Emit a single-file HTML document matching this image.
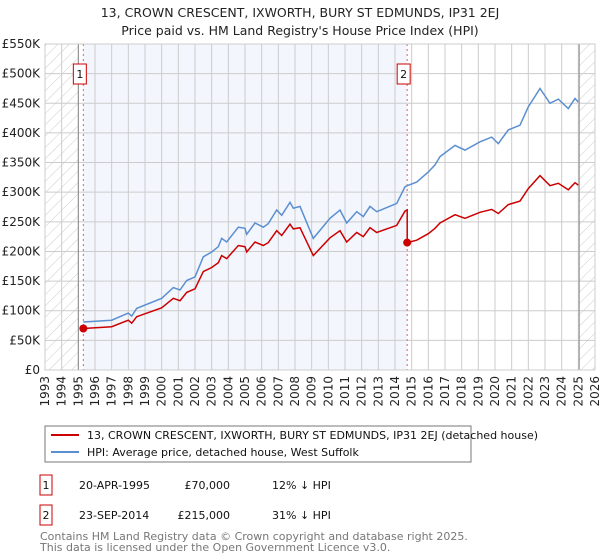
<!DOCTYPE html>
<html><head><meta charset="utf-8"><style>
body{margin:0;background:#fff;font-family:"DejaVu Sans","Liberation Sans",sans-serif;}
svg{display:block}
</style></head><body>
<svg id="chart" width="600" height="560" viewBox="0 0 600 560" xmlns="http://www.w3.org/2000/svg">
<defs>
<pattern id="hatch" width="8" height="8" patternUnits="userSpaceOnUse" patternTransform="rotate(45)">
<line x1="0" y1="0" x2="0" y2="8" stroke="#ccc" stroke-width="1"/>
</pattern>
</defs>
<text x="300" y="17" text-anchor="middle" font-size="12.5" fill="#222">13, CROWN CRESCENT, IXWORTH, BURY ST EDMUNDS, IP31 2EJ</text>
<text x="300" y="35" text-anchor="middle" font-size="12.5" fill="#222">Price paid vs. HM Land Registry's House Price Index (HPI)</text>
<g id="plot"></g>
<g>
<rect x="45" y="426" width="426" height="36" fill="#fff" stroke="#777"/>
<line x1="51" y1="435" x2="79" y2="435" stroke="#cc0000" stroke-width="2"/>
<text x="87" y="439" font-size="11" fill="#111">13, CROWN CRESCENT, IXWORTH, BURY ST EDMUNDS, IP31 2EJ (detached house)</text>
<line x1="51" y1="452" x2="79" y2="452" stroke="#5b8fd0" stroke-width="2"/>
<text x="87" y="456" font-size="11" fill="#111">HPI: Average price, detached house, West Suffolk</text>
</g>
<g font-size="11" fill="#111">
<rect x="40" y="475" width="12" height="20" fill="#fff" stroke="#cc0000"/>
<text x="46" y="489" text-anchor="middle">1</text>
<text x="79" y="489">20-APR-1995</text>
<text x="230" y="489" text-anchor="end">£70,000</text>
<text x="272" y="489">12% ↓ HPI</text>
<rect x="40" y="505" width="12" height="20" fill="#fff" stroke="#cc0000"/>
<text x="46" y="519" text-anchor="middle">2</text>
<text x="79" y="519">23-SEP-2014</text>
<text x="230" y="519" text-anchor="end">£215,000</text>
<text x="272" y="519">31% ↓ HPI</text>
</g>
<text x="40" y="540" font-size="11" fill="#777">Contains HM Land Registry data © Crown copyright and database right 2025.</text>
<text x="40" y="551" font-size="11" fill="#777">This data is licensed under the Open Government Licence v3.0.</text>
</svg>
<script>
const hpiYears=[1995.3,1997,1998,1998.2,1998.5,2000,2000.7,2001.1,2001.5,2002,2002.5,2003,2003.4,2003.6,2003.9,2004.6,2005,2005.1,2005.6,2006.1,2006.4,2006.9,2007.2,2007.7,2007.9,2008.3,2009.1,2010.1,2010.7,2011.1,2011.7,2012.1,2012.5,2012.9,2014.1,2014.6,2014.73,2015.3,2016,2016.4,2016.7,2017.6,2018.2,2019.1,2019.8,2020.2,2020.8,2021.5,2022,2022.7,2023.3,2023.8,2024.4,2024.8,2025.0];
const hpiValues=[81,84,96,91,104,121,139,135,151,157,191,199,208,222,216,241,239,229,248,241,247,270,261,283,273,276,222,256,270,248,267,259,276,267,281,309,311,317,334,346,360,379,371,385,393,382,405,413,444,475,450,457,441,458,452];
const propYears=[1995.3,1997,1998,1998.2,1998.5,2000,2000.7,2001.1,2001.5,2002,2002.5,2003,2003.4,2003.6,2003.9,2004.6,2005,2005.1,2005.6,2006.1,2006.4,2006.9,2007.2,2007.7,2007.9,2008.3,2009.1,2010.1,2010.7,2011.1,2011.7,2012.1,2012.5,2012.9,2014.1,2014.6,2014.73,2014.73,2015.3,2016,2016.4,2016.7,2017.6,2018.2,2019.1,2019.8,2020.2,2020.8,2021.5,2022,2022.7,2023.3,2023.8,2024.4,2024.8,2025.0];
const propValues=[70,73,84,79,90,105,121,117,131,137,166,173,181,193,188,210,208,199,216,210,215,235,227,246,238,240,193,223,235,216,232,225,240,232,244,268,270,215,219,230,239,248,262,256,266,271,264,279,285,306,328,311,315,304,316,312];
const saleYears=[1995.3,2014.73];
const saleValues=[70,215];
const saleLabels=["1","2"];
const yTicks=[0,50,100,150,200,250,300,350,400,450,500,550];
const yTickLabels=["£0","£50K","£100K","£150K","£200K","£250K","£300K","£350K","£400K","£450K","£500K","£550K"];
const xTicks=[1993,1994,1995,1996,1997,1998,1999,2000,2001,2002,2003,2004,2005,2006,2007,2008,2009,2010,2011,2012,2013,2014,2015,2016,2017,2018,2019,2020,2021,2022,2023,2024,2025,2026];

const X0=45,X1=595,Y0=370,Y1=44;
const xs=y=>X0+(y-1993)/(2026-1993)*(X1-X0);
const ys=v=>Y0-v/550*(Y0-Y1);
const NS="http://www.w3.org/2000/svg";
const g=document.getElementById('plot');
function mk(t,a){const e=document.createElementNS(NS,t);for(const k in a)e.setAttribute(k,a[k]);g.appendChild(e);return e;}

let e=mk('rect',{x:xs(saleYears[0]),y:Y1,width:xs(saleYears[1])-xs(saleYears[0]),height:Y0-Y1,fill:'#f3f6fd'});


e=mk('rect',{x:X0,y:Y1,width:xs(1995)-X0,height:Y0-Y1,fill:'url(#hatch)'});


e=mk('rect',{x:xs(2025.05),y:Y1,width:X1-xs(2025.05),height:Y0-Y1,fill:'url(#hatch)'});



xTicks.forEach(t=>{
 const l=mk('line',{x1:xs(t),x2:xs(t),y1:Y1,y2:Y0,stroke:'#ccc','stroke-width':1});
 
 
 const tx=mk('text',{x:0,y:0,transform:`translate(${xs(t)+4},${Y0+6}) rotate(-90)`,'text-anchor':'end','font-size':12,fill:'#222'});
 tx.textContent=t;
 
 
});
yTicks.forEach((t,i)=>{
 const l=mk('line',{x1:X0,x2:X1,y1:ys(t),y2:ys(t),stroke:'#ccc','stroke-width':1});
 
 
 const tx=mk('text',{x:40,y:ys(t)+4,'text-anchor':'end','font-size':12,fill:'#222'});
 tx.textContent=yTickLabels[i];
 
 
});
e=mk('line',{x1:xs(1995),x2:xs(1995),y1:Y1,y2:Y0,stroke:'#888'});


e=mk('line',{x1:xs(2025.05),x2:xs(2025.05),y1:Y1,y2:Y0,stroke:'#888'});



saleYears.forEach((y,i)=>{
 const l=mk('line',{x1:xs(y),x2:xs(y),y1:Y1,y2:Y0,stroke:'#e06060','stroke-dasharray':'2,3'});
 
 
});

const pts=(a,b)=>a.map((y,i)=>xs(y).toFixed(1)+','+ys(b[i]).toFixed(1)).join(' ');
e=mk('polyline',{points:pts(hpiYears,hpiValues),fill:'none',stroke:'#5b8fd0','stroke-width':1.5});


e=mk('polyline',{points:pts(propYears,propValues),fill:'none',stroke:'#cc0000','stroke-width':1.5});



saleYears.forEach((y,i)=>{
 const c=mk('circle',{cx:xs(y),cy:ys(saleValues[i]),r:4,fill:'#cc0000'});
 
 
 const r=mk('rect',{x:xs(y)-10,y:64,width:13,height:20,fill:'#fff',stroke:'#cc0000'});
 
 
 const t=mk('text',{x:xs(y)-3.5,y:78,'text-anchor':'middle','font-size':11,fill:'#111'});
 t.textContent=saleLabels[i];
 
 
});
e=mk('rect',{x:X0,y:Y1,width:X1-X0,height:Y0-Y1,fill:'none',stroke:'#ccc'});


</script>
</body></html>
